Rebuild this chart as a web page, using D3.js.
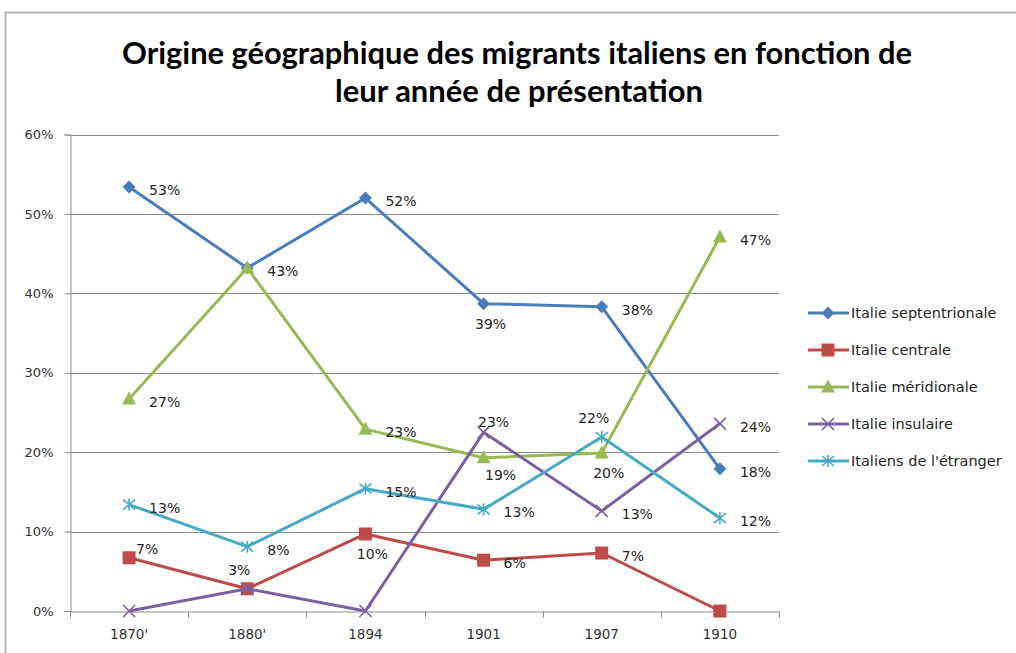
<!DOCTYPE html>
<html>
<head>
<meta charset="utf-8">
<script src="https://cdn.jsdelivr.net/npm/d3@7"></script>
<style>
  html, body { margin: 0; padding: 0; background: #fff; }
  svg { display: block; }
  text { font-family: "DejaVu Sans", sans-serif; fill: #262626; }
</style>
</head>
<body>
<svg id="chart" width="1016" height="653"></svg>
<script>
// Years of presentation (x categories)
const years = ["1870'", "1880'", "1894", "1901", "1907", "1910"];

// Share of migrants by region of origin (%)
const septentrionale = [53.4, 43.2, 52.0, 38.7, 38.3, 17.9];
const centrale       = [6.7, 2.8, 9.7, 6.4, 7.3, 0];
const meridionale    = [26.7, 43.2, 22.9, 19.3, 19.9, 47.1];
const insulaire      = [0, 2.8, 0, 22.5, 12.6, 23.6];
const etranger       = [13.4, 8.1, 15.4, 12.8, 21.9, 11.7];

const seriesNames = ["Italie septentrionale", "Italie centrale", "Italie méridionale", "Italie insulaire", "Italiens de l'étranger"];
const yTicks = [0, 10, 20, 30, 40, 50, 60];

// Where each value label sits around its point (null = no label drawn)
const labelPlacement = [
  ["right", "right", "right", "below", "right", "right"],
  ["aboveRight", "aboveLeft", "below", "right", "right", null],
  ["right", null, "right", "belowRight", "below", "right"],
  [null, null, null, "above", "right", "right"],
  ["right", "right", "right", "right", "aboveLeft", "right"]
];

const series = [
  { name: seriesNames[0], values: septentrionale, color: "#4a7ebb", marker: "diamond" },
  { name: seriesNames[1], values: centrale,       color: "#be4b48", marker: "square" },
  { name: seriesNames[2], values: meridionale,    color: "#98b954", marker: "triangle" },
  { name: seriesNames[3], values: insulaire,      color: "#7d60a0", marker: "x" },
  { name: seriesNames[4], values: etranger,       color: "#46aac5", marker: "star" }
];

const svg = d3.select("#chart");

// Chart frame
svg.append("path")
  .attr("d", "M5.5,653 L5.5,12.5 L1016,12.5")
  .attr("fill", "none").attr("stroke", "#b3b3b3").attr("stroke-width", 2);

// Title
const title = svg.append("text")
  .attr("text-anchor", "middle")
  .style("font-family", "Lato, 'Open Sans', sans-serif")
  .style("font-weight", "bold")
  .style("font-size", "30px")
  .style("fill", "#000");
title.append("tspan").attr("x", 517).attr("y", 64)
  .attr("textLength", 790).attr("lengthAdjust", "spacingAndGlyphs")
  .text("Origine géographique des migrants italiens en fonction de");
title.append("tspan").attr("x", 519).attr("y", 102)
  .attr("textLength", 368).attr("lengthAdjust", "spacingAndGlyphs")
  .text("leur année de présentation");

const plot = { left: 70, right: 779, top: 134.5, bottom: 611 };

const x = d3.scaleBand().domain(years).range([plot.left, plot.right]).padding(0);
const y = d3.scaleLinear().domain([0, 60]).range([plot.bottom, plot.top]);

// Horizontal gridlines
svg.append("g")
  .selectAll("line").data(yTicks.filter(t => t > 0)).join("line")
  .attr("x1", plot.left).attr("x2", plot.right)
  .attr("y1", d => Math.round(y(d)) + 0.5).attr("y2", d => Math.round(y(d)) + 0.5)
  .attr("stroke", "#8c8c8c").attr("stroke-width", 1);

// Y axis
const yAxis = svg.append("g")
  .attr("transform", `translate(${plot.left + 0.5},0)`)
  .call(d3.axisLeft(y).tickValues(yTicks).tickFormat(d => d + "%").tickSize(6).tickPadding(11));
yAxis.select(".domain").attr("stroke", "#8c8c8c");
yAxis.selectAll(".tick line").attr("stroke", "#8c8c8c");
yAxis.selectAll(".tick text").style("font-size", "13px").style("fill", "#333")
  .style("font-family", "'DejaVu Sans', sans-serif");

// X axis with ticks between categories
const xAxis = svg.append("g")
  .attr("transform", `translate(0,${plot.bottom + 0.5})`)
  .call(d3.axisBottom(x).tickSize(0).tickPadding(18));
xAxis.select(".domain").attr("stroke", "#8c8c8c");
xAxis.selectAll(".tick text").style("font-size", "13.5px").style("fill", "#333")
  .style("font-family", "'DejaVu Sans', sans-serif");
const boundaries = years.map(d => x(d)).concat([x(years[years.length - 1]) + x.bandwidth()]);
xAxis.selectAll("line.sep").data(boundaries).join("line").attr("class", "sep")
  .attr("x1", d => Math.round(d) + 0.5).attr("x2", d => Math.round(d) + 0.5)
  .attr("y1", 0).attr("y2", 6).attr("stroke", "#8c8c8c");

const cx = d => x(d) + x.bandwidth() / 2;

// Marker drawing
function drawMarker(g, type, color, px, py) {
  if (type === "diamond") {
    g.append("path").attr("d", `M${px},${py - 6.5}L${px + 6.5},${py}L${px},${py + 6.5}L${px - 6.5},${py}Z`)
      .attr("fill", color);
  } else if (type === "square") {
    g.append("rect").attr("x", px - 6.5).attr("y", py - 6.5).attr("width", 13).attr("height", 13).attr("fill", color);
  } else if (type === "triangle") {
    g.append("path").attr("d", `M${px},${py - 7.5}L${px + 7},${py + 5.5}L${px - 7},${py + 5.5}Z`)
      .attr("fill", color);
  } else if (type === "x") {
    g.append("path").attr("d", `M${px - 6},${py - 6}L${px + 6},${py + 6}M${px - 6},${py + 6}L${px + 6},${py - 6}`)
      .attr("stroke", color).attr("stroke-width", 1.6).attr("fill", "none");
  } else if (type === "star") {
    g.append("path").attr("d", `M${px - 6},${py - 5}L${px + 6},${py + 5}M${px - 6},${py + 5}L${px + 6},${py - 5}M${px},${py - 6}L${px},${py + 6}`)
      .attr("stroke", color).attr("stroke-width", 1.6).attr("fill", "none");
  }
}

const line = d3.line().x((d, i) => cx(years[i])).y(d => y(d));

// Series lines + markers
series.forEach(s => {
  const g = svg.append("g");
  g.append("path").datum(s.values).attr("d", line)
    .attr("fill", "none").attr("stroke", s.color).attr("stroke-width", 3).attr("stroke-linejoin", "round");
  s.values.forEach((v, i) => drawMarker(g, s.marker, s.color, cx(years[i]), y(v)));
});

// Value labels
const offsets = {
  right:      { dx: 20, dy: 8, anchor: "start" },
  below:      { dx: 7, dy: 25, anchor: "middle" },
  belowRight: { dx: 17, dy: 22, anchor: "middle" },
  above:      { dx: 10, dy: -5, anchor: "middle" },
  aboveRight: { dx: 7, dy: -4, anchor: "start" },
  aboveLeft:  { dx: -8, dy: -14, anchor: "middle" }
};
series.forEach((s, si) => {
  s.values.forEach((v, i) => {
    const p = labelPlacement[si][i];
    if (!p) return;
    const o = offsets[p];
    svg.append("text")
      .attr("x", cx(years[i]) + o.dx).attr("y", y(v) + o.dy)
      .attr("text-anchor", o.anchor)
      .style("font-size", "14px").style("fill", "#262626")
      .style("font-family", "'DejaVu Sans', sans-serif")
      .text(Math.round(v) + "%");
  });
});

// Legend
const legend = svg.append("g");
series.forEach((s, i) => {
  const ly = 313 + i * 37;
  const g = legend.append("g");
  g.append("line").attr("x1", 808).attr("x2", 849).attr("y1", ly).attr("y2", ly)
    .attr("stroke", s.color).attr("stroke-width", 3);
  drawMarker(g, s.marker, s.color, 828, ly);
  g.append("text").attr("x", 851).attr("y", ly + 5)
    .style("font-size", "14.5px").style("fill", "#262626")
    .style("font-family", "'DejaVu Sans', sans-serif")
    .text(s.name);
});
</script>
</body>
</html>
